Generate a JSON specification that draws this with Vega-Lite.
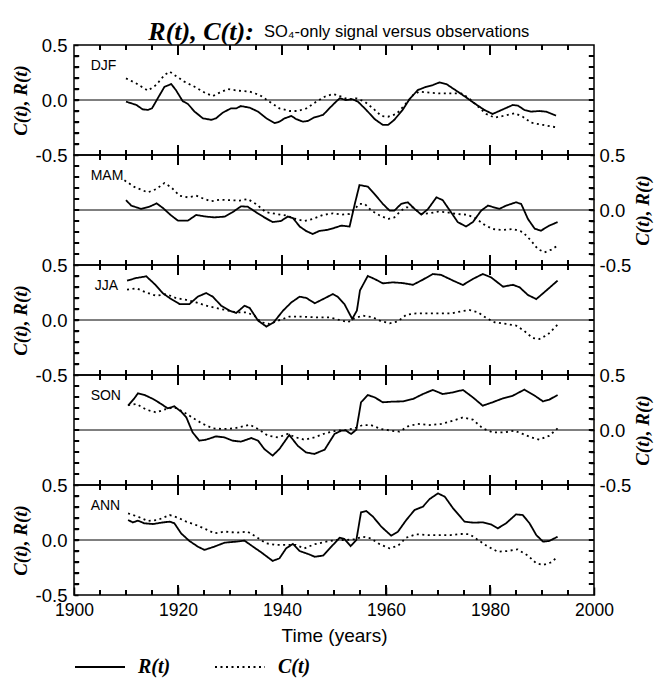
{
"$schema": "https://vega.github.io/schema/vega-lite/v6.json",
"background": "white",
"padding": {"left": 10, "right": 0, "top": 18, "bottom": 2},
"title": {"text": "R(t), C(t):", "anchor": "start", "font": "Liberation Serif", "fontStyle": "italic", "fontWeight": "bold", "fontSize": 26, "color": "black", "dx": 138, "dy": 22, "offset": 0},
"config": {
  "view": {"stroke": "black", "strokeWidth": 1.5, "fill": "transparent"},
  "axis": {"zindex": 1, "domain": false, "grid": false, "tickColor": "black", "tickWidth": 1.5, "labelColor": "black", "labelFont": "Liberation Sans", "labelFontSize": 18.5, "labelFlush": false, "labelOverlap": false, "titleColor": "black", "titleFont": "Liberation Serif", "titleFontStyle": "italic", "titleFontWeight": "bold", "titleFontSize": 19}
},
"spacing": 0,
"bounds": "flush",
"resolve": {"scale": {"strokeDash": "independent"}, "legend": {"strokeDash": "independent"}},
"datasets": {
"xt": [{"yr":1905},{"yr":1910},{"yr":1915},{"yr":1920},{"yr":1925},{"yr":1930},{"yr":1935},{"yr":1940},{"yr":1945},{"yr":1950},{"yr":1955},{"yr":1960},{"yr":1965},{"yr":1970},{"yr":1975},{"yr":1980},{"yr":1985},{"yr":1990},{"yr":1995}],
"yt": [{"yv":-0.4},{"yv":-0.3},{"yv":-0.2},{"yv":-0.1},{"yv":0},{"yv":0.1},{"yv":0.2},{"yv":0.3},{"yv":0.4}],
"DJF": [
{"t":1910.0,"R":-0.015},{"t":1912.0,"R":-0.045},{"t":1913.2,"R":-0.085},{"t":1914.2,"R":-0.09},{"t":1915.0,"R":-0.076},{"t":1916.1,"R":0.015},{"t":1917.4,"R":0.12},{"t":1918.7,"R":0.145},{"t":1919.6,"R":0.09},{"t":1920.9,"R":-0.01},{"t":1921.9,"R":-0.036},{"t":1923.2,"R":-0.106},{"t":1924.8,"R":-0.167},{"t":1926.4,"R":-0.18},{"t":1927.3,"R":-0.167},{"t":1928.6,"R":-0.115},{"t":1930.2,"R":-0.076},{"t":1931.2,"R":-0.076},{"t":1932.1,"R":-0.055},{"t":1933.8,"R":-0.07},{"t":1935.4,"R":-0.106},{"t":1937.0,"R":-0.167},{"t":1938.6,"R":-0.21},{"t":1939.5,"R":-0.197},{"t":1940.5,"R":-0.167},{"t":1941.8,"R":-0.145},{"t":1942.7,"R":-0.173},{"t":1944.0,"R":-0.197},{"t":1945.0,"R":-0.19},{"t":1946.2,"R":-0.158},{"t":1947.9,"R":-0.136},{"t":1949.1,"R":-0.076},{"t":1950.4,"R":-0.015},{"t":1951.1,"R":0.015},{"t":1952.3,"R":0.0},{"t":1953.6,"R":0.006},{"t":1954.6,"R":-0.015},{"t":1956.2,"R":-0.09},{"t":1957.8,"R":-0.173},{"t":1959.4,"R":-0.227},{"t":1960.4,"R":-0.227},{"t":1961.6,"R":-0.18},{"t":1963.2,"R":-0.09},{"t":1964.5,"R":0.006},{"t":1966.1,"R":0.09},{"t":1967.7,"R":0.12},{"t":1969.0,"R":0.136},{"t":1970.3,"R":0.16},{"t":1971.6,"R":0.145},{"t":1973.5,"R":0.085},{"t":1975.4,"R":0.024},{"t":1977.0,"R":-0.03},{"t":1978.9,"R":-0.09},{"t":1980.5,"R":-0.127},{"t":1982.5,"R":-0.085},{"t":1984.4,"R":-0.045},{"t":1985.4,"R":-0.052},{"t":1986.6,"R":-0.09},{"t":1987.9,"R":-0.106},{"t":1989.5,"R":-0.1},{"t":1990.8,"R":-0.106},{"t":1992.7,"R":-0.142},
{"t":1910.0,"C":0.197},{"t":1912.0,"C":0.15},{"t":1914.2,"C":0.085},{"t":1915.8,"C":0.136},{"t":1917.4,"C":0.227},{"t":1918.4,"C":0.258},{"t":1919.6,"C":0.218},{"t":1921.2,"C":0.167},{"t":1923.2,"C":0.12},{"t":1925.4,"C":0.06},{"t":1926.7,"C":0.036},{"t":1928.0,"C":0.067},{"t":1929.6,"C":0.1},{"t":1931.5,"C":0.085},{"t":1933.8,"C":0.076},{"t":1935.7,"C":0.045},{"t":1937.6,"C":-0.015},{"t":1939.5,"C":-0.076},{"t":1941.5,"C":-0.1},{"t":1943.0,"C":-0.1},{"t":1944.7,"C":-0.076},{"t":1946.6,"C":-0.015},{"t":1948.2,"C":0.03},{"t":1949.8,"C":0.055},{"t":1951.1,"C":0.036},{"t":1952.7,"C":0.006},{"t":1954.3,"C":0.015},{"t":1955.9,"C":-0.015},{"t":1957.5,"C":-0.076},{"t":1959.1,"C":-0.145},{"t":1960.4,"C":-0.152},{"t":1962.0,"C":-0.127},{"t":1963.6,"C":-0.045},{"t":1965.2,"C":0.045},{"t":1966.4,"C":0.076},{"t":1968.4,"C":0.067},{"t":1970.3,"C":0.06},{"t":1972.5,"C":0.06},{"t":1974.5,"C":0.06},{"t":1976.0,"C":0.015},{"t":1977.7,"C":-0.06},{"t":1979.3,"C":-0.127},{"t":1980.9,"C":-0.16},{"t":1982.5,"C":-0.145},{"t":1984.7,"C":-0.12},{"t":1986.3,"C":-0.152},{"t":1987.9,"C":-0.206},{"t":1990.2,"C":-0.227},{"t":1992.7,"C":-0.248}
],
"MAM": [
{"t":1910.0,"R":0.09},{"t":1911.0,"R":0.04},{"t":1912.9,"R":0.01},{"t":1914.5,"R":0.03},{"t":1915.9,"R":0.06},{"t":1917.1,"R":0.018},{"t":1918.7,"R":-0.05},{"t":1920.0,"R":-0.097},{"t":1921.9,"R":-0.097},{"t":1923.5,"R":-0.045},{"t":1925.4,"R":-0.06},{"t":1927.0,"R":-0.067},{"t":1929.0,"R":-0.06},{"t":1930.5,"R":-0.02},{"t":1932.1,"R":0.033},{"t":1933.4,"R":0.03},{"t":1935.0,"R":-0.02},{"t":1936.6,"R":-0.067},{"t":1938.2,"R":-0.11},{"t":1939.8,"R":-0.1},{"t":1941.1,"R":-0.06},{"t":1942.1,"R":-0.073},{"t":1943.4,"R":-0.15},{"t":1944.6,"R":-0.19},{"t":1945.9,"R":-0.218},{"t":1947.2,"R":-0.19},{"t":1948.8,"R":-0.18},{"t":1950.4,"R":-0.158},{"t":1951.4,"R":-0.142},{"t":1953.0,"R":-0.15},{"t":1954.0,"R":0.055},{"t":1954.9,"R":0.227},{"t":1956.5,"R":0.212},{"t":1957.8,"R":0.145},{"t":1959.4,"R":0.055},{"t":1960.7,"R":-0.006},{"t":1961.6,"R":-0.006},{"t":1962.9,"R":0.055},{"t":1964.2,"R":0.07},{"t":1965.5,"R":0.01},{"t":1966.8,"R":-0.042},{"t":1968.1,"R":0.01},{"t":1969.7,"R":0.115},{"t":1970.9,"R":0.09},{"t":1972.5,"R":-0.02},{"t":1973.8,"R":-0.11},{"t":1975.4,"R":-0.15},{"t":1976.7,"R":-0.11},{"t":1978.3,"R":-0.006},{"t":1979.6,"R":0.04},{"t":1981.8,"R":0.01},{"t":1983.1,"R":0.04},{"t":1985.0,"R":0.07},{"t":1986.0,"R":0.055},{"t":1987.3,"R":-0.082},{"t":1988.6,"R":-0.17},{"t":1989.8,"R":-0.188},{"t":1991.4,"R":-0.142},{"t":1993.0,"R":-0.11},
{"t":1909.7,"C":0.27},{"t":1911.6,"C":0.21},{"t":1914.2,"C":0.16},{"t":1915.8,"C":0.19},{"t":1917.4,"C":0.245},{"t":1918.7,"C":0.206},{"t":1920.3,"C":0.13},{"t":1921.9,"C":0.115},{"t":1923.5,"C":0.13},{"t":1925.1,"C":0.1},{"t":1926.3,"C":0.079},{"t":1928.0,"C":0.094},{"t":1929.9,"C":0.09},{"t":1931.8,"C":0.085},{"t":1933.4,"C":0.1},{"t":1935.0,"C":0.055},{"t":1936.9,"C":-0.02},{"t":1938.9,"C":-0.036},{"t":1940.8,"C":-0.05},{"t":1942.7,"C":-0.082},{"t":1944.3,"C":-0.1},{"t":1945.9,"C":-0.082},{"t":1947.9,"C":-0.045},{"t":1949.8,"C":-0.03},{"t":1951.4,"C":-0.042},{"t":1953.0,"C":-0.036},{"t":1954.0,"C":0.01},{"t":1954.9,"C":0.055},{"t":1955.9,"C":0.055},{"t":1957.2,"C":-0.006},{"t":1958.8,"C":-0.05},{"t":1960.4,"C":-0.082},{"t":1961.6,"C":-0.067},{"t":1962.9,"C":-0.006},{"t":1963.9,"C":0.024},{"t":1965.2,"C":0.024},{"t":1966.8,"C":-0.036},{"t":1968.4,"C":-0.03},{"t":1970.0,"C":-0.015},{"t":1971.6,"C":-0.02},{"t":1973.5,"C":-0.036},{"t":1975.4,"C":-0.042},{"t":1977.0,"C":-0.067},{"t":1978.9,"C":-0.133},{"t":1980.5,"C":-0.173},{"t":1982.5,"C":-0.182},{"t":1984.4,"C":-0.173},{"t":1986.3,"C":-0.2},{"t":1987.9,"C":-0.279},{"t":1989.2,"C":-0.355},{"t":1990.5,"C":-0.385},{"t":1991.8,"C":-0.36},{"t":1993.0,"C":-0.324}
],
"JJA": [
{"t":1910.2,"R":0.358},{"t":1912.0,"R":0.382},{"t":1913.9,"R":0.397},{"t":1915.5,"R":0.327},{"t":1917.1,"R":0.242},{"t":1918.7,"R":0.19},{"t":1920.3,"R":0.145},{"t":1922.2,"R":0.145},{"t":1923.8,"R":0.212},{"t":1925.4,"R":0.245},{"t":1926.7,"R":0.212},{"t":1928.3,"R":0.13},{"t":1929.9,"R":0.085},{"t":1931.2,"R":0.064},{"t":1932.8,"R":0.13},{"t":1933.8,"R":0.109},{"t":1935.4,"R":-0.006},{"t":1937.0,"R":-0.06},{"t":1938.4,"R":-0.021},{"t":1940.2,"R":0.085},{"t":1941.8,"R":0.16},{"t":1943.4,"R":0.212},{"t":1944.7,"R":0.2},{"t":1946.3,"R":0.152},{"t":1947.9,"R":0.19},{"t":1949.8,"R":0.236},{"t":1950.7,"R":0.212},{"t":1952.0,"R":0.145},{"t":1953.5,"R":0.01},{"t":1954.4,"R":0.085},{"t":1955.0,"R":0.27},{"t":1956.5,"R":0.4},{"t":1957.8,"R":0.373},{"t":1959.4,"R":0.333},{"t":1961.3,"R":0.342},{"t":1963.2,"R":0.336},{"t":1965.2,"R":0.32},{"t":1967.1,"R":0.367},{"t":1969.0,"R":0.418},{"t":1970.6,"R":0.41},{"t":1972.9,"R":0.358},{"t":1974.8,"R":0.318},{"t":1976.7,"R":0.373},{"t":1978.6,"R":0.418},{"t":1980.2,"R":0.388},{"t":1982.5,"R":0.303},{"t":1984.4,"R":0.32},{"t":1985.7,"R":0.297},{"t":1987.3,"R":0.227},{"t":1988.9,"R":0.19},{"t":1990.8,"R":0.267},{"t":1993.0,"R":0.358},
{"t":1910.2,"C":0.276},{"t":1912.0,"C":0.288},{"t":1913.9,"C":0.25},{"t":1915.8,"C":0.22},{"t":1917.7,"C":0.236},{"t":1919.6,"C":0.2},{"t":1921.6,"C":0.182},{"t":1923.5,"C":0.16},{"t":1925.4,"C":0.13},{"t":1927.3,"C":0.109},{"t":1929.3,"C":0.09},{"t":1931.2,"C":0.07},{"t":1933.1,"C":0.07},{"t":1934.7,"C":0.04},{"t":1936.0,"C":-0.021},{"t":1937.6,"C":-0.036},{"t":1939.2,"C":-0.006},{"t":1941.4,"C":0.03},{"t":1944.0,"C":0.03},{"t":1946.6,"C":0.024},{"t":1949.1,"C":0.024},{"t":1951.1,"C":0.0},{"t":1952.7,"C":-0.021},{"t":1953.6,"C":0.009},{"t":1955.5,"C":0.04},{"t":1957.5,"C":0.024},{"t":1959.1,"C":-0.012},{"t":1960.7,"C":-0.03},{"t":1962.3,"C":-0.012},{"t":1963.9,"C":0.048},{"t":1965.8,"C":0.06},{"t":1968.1,"C":0.06},{"t":1970.3,"C":0.06},{"t":1972.5,"C":0.06},{"t":1974.5,"C":0.079},{"t":1976.1,"C":0.09},{"t":1977.7,"C":0.07},{"t":1979.3,"C":0.018},{"t":1980.9,"C":-0.021},{"t":1983.1,"C":-0.036},{"t":1985.0,"C":-0.05},{"t":1986.6,"C":-0.1},{"t":1988.2,"C":-0.164},{"t":1989.5,"C":-0.173},{"t":1991.1,"C":-0.133},{"t":1993.0,"C":-0.042}
],
"SON": [
{"t":1910.4,"R":0.221},{"t":1911.6,"R":0.288},{"t":1912.3,"R":0.333},{"t":1913.5,"R":0.32},{"t":1915.2,"R":0.282},{"t":1916.8,"R":0.236},{"t":1918.0,"R":0.197},{"t":1919.3,"R":0.215},{"t":1920.6,"R":0.167},{"t":1921.6,"R":0.115},{"t":1922.8,"R":-0.021},{"t":1924.1,"R":-0.097},{"t":1925.4,"R":-0.088},{"t":1927.3,"R":-0.058},{"t":1928.9,"R":-0.067},{"t":1930.5,"R":-0.097},{"t":1932.1,"R":-0.106},{"t":1934.1,"R":-0.073},{"t":1935.4,"R":-0.097},{"t":1936.6,"R":-0.173},{"t":1938.2,"R":-0.233},{"t":1939.5,"R":-0.173},{"t":1941.4,"R":-0.045},{"t":1943.0,"R":-0.142},{"t":1944.6,"R":-0.203},{"t":1946.2,"R":-0.218},{"t":1948.2,"R":-0.179},{"t":1950.1,"R":-0.036},{"t":1951.4,"R":-0.006},{"t":1952.3,"R":-0.006},{"t":1953.3,"R":-0.036},{"t":1954.3,"R":0.003},{"t":1955.2,"R":0.252},{"t":1956.5,"R":0.318},{"t":1957.8,"R":0.297},{"t":1959.4,"R":0.252},{"t":1961.3,"R":0.258},{"t":1963.2,"R":0.26},{"t":1965.2,"R":0.282},{"t":1967.1,"R":0.327},{"t":1969.0,"R":0.364},{"t":1970.9,"R":0.327},{"t":1972.9,"R":0.342},{"t":1974.8,"R":0.364},{"t":1976.7,"R":0.297},{"t":1978.6,"R":0.221},{"t":1980.5,"R":0.252},{"t":1982.5,"R":0.288},{"t":1984.4,"R":0.312},{"t":1986.6,"R":0.367},{"t":1988.6,"R":0.312},{"t":1990.2,"R":0.26},{"t":1991.4,"R":0.276},{"t":1993.0,"R":0.318},
{"t":1910.4,"C":0.227},{"t":1912.0,"C":0.236},{"t":1913.9,"C":0.185},{"t":1915.8,"C":0.16},{"t":1917.7,"C":0.19},{"t":1919.3,"C":0.206},{"t":1921.2,"C":0.16},{"t":1923.2,"C":0.1},{"t":1924.8,"C":0.055},{"t":1926.7,"C":0.015},{"t":1928.6,"C":0.009},{"t":1930.9,"C":0.015},{"t":1932.5,"C":0.033},{"t":1933.8,"C":0.048},{"t":1935.4,"C":0.009},{"t":1937.3,"C":-0.052},{"t":1939.2,"C":-0.067},{"t":1941.1,"C":-0.036},{"t":1942.7,"C":-0.067},{"t":1944.3,"C":-0.088},{"t":1946.2,"C":-0.067},{"t":1948.5,"C":-0.027},{"t":1950.4,"C":-0.006},{"t":1952.3,"C":0.0},{"t":1953.9,"C":0.015},{"t":1955.5,"C":0.045},{"t":1957.1,"C":0.045},{"t":1959.1,"C":0.009},{"t":1961.0,"C":-0.006},{"t":1962.6,"C":-0.015},{"t":1964.2,"C":0.033},{"t":1966.1,"C":0.055},{"t":1968.4,"C":0.045},{"t":1970.6,"C":0.055},{"t":1972.9,"C":0.085},{"t":1974.8,"C":0.115},{"t":1976.7,"C":0.094},{"t":1978.6,"C":0.015},{"t":1980.5,"C":-0.021},{"t":1982.8,"C":-0.021},{"t":1984.7,"C":-0.006},{"t":1986.3,"C":-0.036},{"t":1987.9,"C":-0.067},{"t":1989.5,"C":-0.088},{"t":1991.4,"C":-0.052},{"t":1993.0,"C":0.015}
],
"ANN": [
{"t":1910.4,"R":0.182},{"t":1911.3,"R":0.16},{"t":1912.3,"R":0.176},{"t":1913.5,"R":0.152},{"t":1915.2,"R":0.145},{"t":1916.8,"R":0.158},{"t":1918.4,"R":0.167},{"t":1919.3,"R":0.152},{"t":1920.6,"R":0.06},{"t":1922.2,"R":-0.009},{"t":1923.8,"R":-0.06},{"t":1925.1,"R":-0.09},{"t":1927.0,"R":-0.06},{"t":1929.0,"R":-0.024},{"t":1931.2,"R":-0.015},{"t":1932.8,"R":-0.006},{"t":1934.4,"R":-0.06},{"t":1936.0,"R":-0.112},{"t":1938.2,"R":-0.19},{"t":1939.5,"R":-0.167},{"t":1940.8,"R":-0.076},{"t":1942.1,"R":-0.036},{"t":1943.4,"R":-0.1},{"t":1945.0,"R":-0.127},{"t":1946.3,"R":-0.152},{"t":1947.9,"R":-0.142},{"t":1949.5,"R":-0.06},{"t":1951.1,"R":0.021},{"t":1952.0,"R":0.009},{"t":1953.2,"R":-0.055},{"t":1954.3,"R":0.0},{"t":1955.2,"R":0.252},{"t":1956.2,"R":0.264},{"t":1957.5,"R":0.212},{"t":1959.1,"R":0.121},{"t":1961.0,"R":0.039},{"t":1962.3,"R":0.076},{"t":1963.9,"R":0.182},{"t":1965.5,"R":0.273},{"t":1967.1,"R":0.303},{"t":1968.4,"R":0.373},{"t":1970.0,"R":0.424},{"t":1971.3,"R":0.394},{"t":1972.9,"R":0.288},{"t":1975.1,"R":0.167},{"t":1976.7,"R":0.158},{"t":1978.6,"R":0.16},{"t":1980.2,"R":0.142},{"t":1981.5,"R":0.106},{"t":1983.1,"R":0.152},{"t":1985.0,"R":0.233},{"t":1986.3,"R":0.227},{"t":1987.6,"R":0.152},{"t":1988.9,"R":0.045},{"t":1990.2,"R":-0.015},{"t":1991.4,"R":-0.009},{"t":1993.0,"R":0.03},
{"t":1910.4,"C":0.242},{"t":1912.3,"C":0.212},{"t":1914.2,"C":0.173},{"t":1916.1,"C":0.182},{"t":1918.4,"C":0.227},{"t":1920.0,"C":0.203},{"t":1921.6,"C":0.167},{"t":1923.5,"C":0.136},{"t":1925.4,"C":0.097},{"t":1927.0,"C":0.06},{"t":1929.0,"C":0.076},{"t":1931.2,"C":0.067},{"t":1933.4,"C":0.076},{"t":1935.0,"C":0.03},{"t":1936.9,"C":-0.03},{"t":1938.9,"C":-0.045},{"t":1941.1,"C":-0.045},{"t":1942.7,"C":-0.045},{"t":1944.3,"C":-0.076},{"t":1946.2,"C":-0.039},{"t":1948.5,"C":-0.015},{"t":1950.4,"C":0.0},{"t":1952.3,"C":0.0},{"t":1953.9,"C":0.006},{"t":1955.5,"C":0.03},{"t":1957.1,"C":0.015},{"t":1958.8,"C":-0.039},{"t":1960.7,"C":-0.076},{"t":1962.3,"C":-0.052},{"t":1963.9,"C":0.021},{"t":1965.8,"C":0.052},{"t":1968.1,"C":0.045},{"t":1970.3,"C":0.045},{"t":1972.5,"C":0.045},{"t":1974.5,"C":0.055},{"t":1976.1,"C":0.052},{"t":1977.7,"C":0.0},{"t":1979.6,"C":-0.06},{"t":1981.5,"C":-0.106},{"t":1983.4,"C":-0.1},{"t":1985.3,"C":-0.085},{"t":1987.3,"C":-0.142},{"t":1988.9,"C":-0.212},{"t":1990.2,"C":-0.227},{"t":1991.8,"C":-0.203},{"t":1993.0,"C":-0.152}
]
},
"vconcat": [
{
 "width": 520, "height": 110,
 "title": {"text": "SO\u2084-only signal versus observations", "anchor": "start", "frame": "group", "font": "Liberation Sans", "fontSize": 16.5, "fontStyle": "normal", "fontWeight": "normal", "color": "black", "dx": 190, "offset": -4},
 "data": {"name": "DJF"},
 "layer": [
  {"transform": [{"filter": "isValid(datum.R)"}], "mark": {"type": "line", "color": "black", "strokeWidth": 1.8},
   "encoding": {
    "x": {"field": "t", "type": "quantitative", "scale": {"domain": [1900, 2000], "nice": false, "zero": false}, "axis": null},
    "y": {"field": "R", "type": "quantitative", "scale": {"domain": [-0.5, 0.5], "nice": false},
      "axis": {"orient": "left", "values": [-0.5,-0.4,-0.3,-0.2,-0.1,0,0.1,0.2,0.3,0.4,0.5], "labelExpr": "abs(datum.value) < 0.01 || abs(datum.value) > 0.49 ? replace(format(datum.value, '.1f'), '\u2212', '-') : ''", "labelPadding": 7, "tickSize": 4, "offset": -4, "title": "C(t), R(t)", "titlePadding": 5}},
    "strokeDash": {"datum": "R(t)", "type": "nominal", "scale": {"domain": ["R(t)", "C(t)"], "range": [[1, 0], [2, 3.5]]}, "legend": null}
   }},
  {"transform": [{"filter": "isValid(datum.C)"}], "mark": {"type": "line", "color": "black", "strokeWidth": 1.8},
   "encoding": {"x": {"field": "t", "type": "quantitative", "axis": null}, "y": {"field": "C", "type": "quantitative", "axis": null}, "strokeDash": {"datum": "C(t)", "type": "nominal", "legend": null}}},
  {"data": {"values": [{}]}, "mark": {"type": "rule", "color": "black", "strokeWidth": 1}, "encoding": {"y": {"datum": 0, "type": "quantitative", "axis": null}}},
  {"data": {"name": "xt"}, "transform": [{"filter": "datum.yr % 20 === 0"}], "mark": {"type": "rule", "color": "black", "strokeWidth": 2}, "encoding": {"x": {"field": "yr", "type": "quantitative", "axis": null}, "y": {"datum": 0.5, "type": "quantitative", "axis": null}, "y2": {"datum": 0.41}}},
  {"data": {"name": "xt"}, "transform": [{"filter": "datum.yr % 20 !== 0"}], "mark": {"type": "rule", "color": "black", "strokeWidth": 2}, "encoding": {"x": {"field": "yr", "type": "quantitative", "axis": null}, "y": {"datum": 0.5, "type": "quantitative", "axis": null}, "y2": {"datum": 0.455}}},
  {"data": {"name": "xt"}, "transform": [{"filter": "datum.yr % 20 === 0"}], "mark": {"type": "rule", "color": "black", "strokeWidth": 2}, "encoding": {"x": {"field": "yr", "type": "quantitative", "axis": null}, "y": {"datum": -0.5, "type": "quantitative", "axis": null}, "y2": {"datum": -0.41}}},
  {"data": {"name": "xt"}, "transform": [{"filter": "datum.yr % 20 !== 0"}], "mark": {"type": "rule", "color": "black", "strokeWidth": 2}, "encoding": {"x": {"field": "yr", "type": "quantitative", "axis": null}, "y": {"datum": -0.5, "type": "quantitative", "axis": null}, "y2": {"datum": -0.455}}},
  {"data": {"name": "yt"}, "mark": {"type": "rule", "color": "black", "strokeWidth": 2}, "encoding": {"y": {"field": "yv", "type": "quantitative", "axis": null}, "x": {"datum": 1900, "type": "quantitative", "axis": null}, "x2": {"datum": 1901}}},
  {"data": {"name": "yt"}, "mark": {"type": "rule", "color": "black", "strokeWidth": 2}, "encoding": {"y": {"field": "yv", "type": "quantitative", "axis": null}, "x": {"datum": 2000, "type": "quantitative", "axis": null}, "x2": {"datum": 1999}}},
  {"data": {"values": [{}]}, "mark": {"type": "text", "align": "left", "baseline": "alphabetic", "font": "Liberation Sans", "fontSize": 14, "color": "black"}, "encoding": {"x": {"datum": 1903.2, "type": "quantitative", "axis": null}, "y": {"datum": 0.27, "type": "quantitative", "axis": null}, "text": {"value": "DJF"}}}
 ],
 "resolve": {"axis": {"x": "independent", "y": "independent"}}
},
{
 "width": 520, "height": 110,
 "data": {"name": "MAM"},
 "layer": [
  {"transform": [{"filter": "isValid(datum.R)"}], "mark": {"type": "line", "color": "black", "strokeWidth": 1.8},
   "encoding": {
    "x": {"field": "t", "type": "quantitative", "scale": {"domain": [1900, 2000], "nice": false, "zero": false}, "axis": null},
    "y": {"field": "R", "type": "quantitative", "scale": {"domain": [-0.5, 0.5], "nice": false},
      "axis": {"orient": "right", "values": [-0.5,-0.4,-0.3,-0.2,-0.1,0,0.1,0.2,0.3,0.4,0.5], "labelExpr": "abs(datum.value) < 0.01 || abs(datum.value) > 0.49 ? replace(format(datum.value, '.1f'), '\u2212', '-') : ''", "labelPadding": 5, "tickSize": 4, "offset": -4, "title": "C(t), R(t)", "titleAngle": 270, "titleBaseline": "top", "titlePadding": 3}},
    "strokeDash": {"datum": "R(t)", "type": "nominal", "scale": {"domain": ["R(t)", "C(t)"], "range": [[1, 0], [2, 3.5]]}, "legend": null}
   }},
  {"transform": [{"filter": "isValid(datum.C)"}], "mark": {"type": "line", "color": "black", "strokeWidth": 1.8},
   "encoding": {"x": {"field": "t", "type": "quantitative", "axis": null}, "y": {"field": "C", "type": "quantitative", "axis": null}, "strokeDash": {"datum": "C(t)", "type": "nominal", "legend": null}}},
  {"data": {"values": [{}]}, "mark": {"type": "rule", "color": "black", "strokeWidth": 1}, "encoding": {"y": {"datum": 0, "type": "quantitative", "axis": null}}},
  {"data": {"name": "xt"}, "transform": [{"filter": "datum.yr % 20 === 0"}], "mark": {"type": "rule", "color": "black", "strokeWidth": 2}, "encoding": {"x": {"field": "yr", "type": "quantitative", "axis": null}, "y": {"datum": 0.5, "type": "quantitative", "axis": null}, "y2": {"datum": 0.41}}},
  {"data": {"name": "xt"}, "transform": [{"filter": "datum.yr % 20 !== 0"}], "mark": {"type": "rule", "color": "black", "strokeWidth": 2}, "encoding": {"x": {"field": "yr", "type": "quantitative", "axis": null}, "y": {"datum": 0.5, "type": "quantitative", "axis": null}, "y2": {"datum": 0.455}}},
  {"data": {"name": "xt"}, "transform": [{"filter": "datum.yr % 20 === 0"}], "mark": {"type": "rule", "color": "black", "strokeWidth": 2}, "encoding": {"x": {"field": "yr", "type": "quantitative", "axis": null}, "y": {"datum": -0.5, "type": "quantitative", "axis": null}, "y2": {"datum": -0.41}}},
  {"data": {"name": "xt"}, "transform": [{"filter": "datum.yr % 20 !== 0"}], "mark": {"type": "rule", "color": "black", "strokeWidth": 2}, "encoding": {"x": {"field": "yr", "type": "quantitative", "axis": null}, "y": {"datum": -0.5, "type": "quantitative", "axis": null}, "y2": {"datum": -0.455}}},
  {"data": {"name": "yt"}, "mark": {"type": "rule", "color": "black", "strokeWidth": 2}, "encoding": {"y": {"field": "yv", "type": "quantitative", "axis": null}, "x": {"datum": 1900, "type": "quantitative", "axis": null}, "x2": {"datum": 1901}}},
  {"data": {"name": "yt"}, "mark": {"type": "rule", "color": "black", "strokeWidth": 2}, "encoding": {"y": {"field": "yv", "type": "quantitative", "axis": null}, "x": {"datum": 2000, "type": "quantitative", "axis": null}, "x2": {"datum": 1999}}},
  {"data": {"values": [{}]}, "mark": {"type": "text", "align": "left", "baseline": "alphabetic", "font": "Liberation Sans", "fontSize": 14, "color": "black"}, "encoding": {"x": {"datum": 1903.2, "type": "quantitative", "axis": null}, "y": {"datum": 0.27, "type": "quantitative", "axis": null}, "text": {"value": "MAM"}}}
 ],
 "resolve": {"axis": {"x": "independent", "y": "independent"}}
},
{
 "width": 520, "height": 110,
 "data": {"name": "JJA"},
 "layer": [
  {"transform": [{"filter": "isValid(datum.R)"}], "mark": {"type": "line", "color": "black", "strokeWidth": 1.8},
   "encoding": {
    "x": {"field": "t", "type": "quantitative", "scale": {"domain": [1900, 2000], "nice": false, "zero": false}, "axis": null},
    "y": {"field": "R", "type": "quantitative", "scale": {"domain": [-0.5, 0.5], "nice": false},
      "axis": {"orient": "left", "values": [-0.5,-0.4,-0.3,-0.2,-0.1,0,0.1,0.2,0.3,0.4,0.5], "labelExpr": "abs(datum.value) < 0.01 || abs(datum.value) > 0.49 ? replace(format(datum.value, '.1f'), '\u2212', '-') : ''", "labelPadding": 7, "tickSize": 4, "offset": -4, "title": "C(t), R(t)", "titlePadding": 5}},
    "strokeDash": {"datum": "R(t)", "type": "nominal", "scale": {"domain": ["R(t)", "C(t)"], "range": [[1, 0], [2, 3.5]]}, "legend": null}
   }},
  {"transform": [{"filter": "isValid(datum.C)"}], "mark": {"type": "line", "color": "black", "strokeWidth": 1.8},
   "encoding": {"x": {"field": "t", "type": "quantitative", "axis": null}, "y": {"field": "C", "type": "quantitative", "axis": null}, "strokeDash": {"datum": "C(t)", "type": "nominal", "legend": null}}},
  {"data": {"values": [{}]}, "mark": {"type": "rule", "color": "black", "strokeWidth": 1}, "encoding": {"y": {"datum": 0, "type": "quantitative", "axis": null}}},
  {"data": {"name": "xt"}, "transform": [{"filter": "datum.yr % 20 === 0"}], "mark": {"type": "rule", "color": "black", "strokeWidth": 2}, "encoding": {"x": {"field": "yr", "type": "quantitative", "axis": null}, "y": {"datum": 0.5, "type": "quantitative", "axis": null}, "y2": {"datum": 0.41}}},
  {"data": {"name": "xt"}, "transform": [{"filter": "datum.yr % 20 !== 0"}], "mark": {"type": "rule", "color": "black", "strokeWidth": 2}, "encoding": {"x": {"field": "yr", "type": "quantitative", "axis": null}, "y": {"datum": 0.5, "type": "quantitative", "axis": null}, "y2": {"datum": 0.455}}},
  {"data": {"name": "xt"}, "transform": [{"filter": "datum.yr % 20 === 0"}], "mark": {"type": "rule", "color": "black", "strokeWidth": 2}, "encoding": {"x": {"field": "yr", "type": "quantitative", "axis": null}, "y": {"datum": -0.5, "type": "quantitative", "axis": null}, "y2": {"datum": -0.41}}},
  {"data": {"name": "xt"}, "transform": [{"filter": "datum.yr % 20 !== 0"}], "mark": {"type": "rule", "color": "black", "strokeWidth": 2}, "encoding": {"x": {"field": "yr", "type": "quantitative", "axis": null}, "y": {"datum": -0.5, "type": "quantitative", "axis": null}, "y2": {"datum": -0.455}}},
  {"data": {"name": "yt"}, "mark": {"type": "rule", "color": "black", "strokeWidth": 2}, "encoding": {"y": {"field": "yv", "type": "quantitative", "axis": null}, "x": {"datum": 1900, "type": "quantitative", "axis": null}, "x2": {"datum": 1901}}},
  {"data": {"name": "yt"}, "mark": {"type": "rule", "color": "black", "strokeWidth": 2}, "encoding": {"y": {"field": "yv", "type": "quantitative", "axis": null}, "x": {"datum": 2000, "type": "quantitative", "axis": null}, "x2": {"datum": 1999}}},
  {"data": {"values": [{}]}, "mark": {"type": "text", "align": "left", "baseline": "alphabetic", "font": "Liberation Sans", "fontSize": 14, "color": "black"}, "encoding": {"x": {"datum": 1904, "type": "quantitative", "axis": null}, "y": {"datum": 0.27, "type": "quantitative", "axis": null}, "text": {"value": "JJA"}}}
 ],
 "resolve": {"axis": {"x": "independent", "y": "independent"}}
},
{
 "width": 520, "height": 110,
 "data": {"name": "SON"},
 "layer": [
  {"transform": [{"filter": "isValid(datum.R)"}], "mark": {"type": "line", "color": "black", "strokeWidth": 1.8},
   "encoding": {
    "x": {"field": "t", "type": "quantitative", "scale": {"domain": [1900, 2000], "nice": false, "zero": false}, "axis": null},
    "y": {"field": "R", "type": "quantitative", "scale": {"domain": [-0.5, 0.5], "nice": false},
      "axis": {"orient": "right", "values": [-0.5,-0.4,-0.3,-0.2,-0.1,0,0.1,0.2,0.3,0.4,0.5], "labelExpr": "abs(datum.value) < 0.01 || abs(datum.value) > 0.49 ? replace(format(datum.value, '.1f'), '\u2212', '-') : ''", "labelPadding": 5, "tickSize": 4, "offset": -4, "title": "C(t), R(t)", "titleAngle": 270, "titleBaseline": "top", "titlePadding": 3}},
    "strokeDash": {"datum": "R(t)", "type": "nominal", "scale": {"domain": ["R(t)", "C(t)"], "range": [[1, 0], [2, 3.5]]}, "legend": null}
   }},
  {"transform": [{"filter": "isValid(datum.C)"}], "mark": {"type": "line", "color": "black", "strokeWidth": 1.8},
   "encoding": {"x": {"field": "t", "type": "quantitative", "axis": null}, "y": {"field": "C", "type": "quantitative", "axis": null}, "strokeDash": {"datum": "C(t)", "type": "nominal", "legend": null}}},
  {"data": {"values": [{}]}, "mark": {"type": "rule", "color": "black", "strokeWidth": 1}, "encoding": {"y": {"datum": 0, "type": "quantitative", "axis": null}}},
  {"data": {"name": "xt"}, "transform": [{"filter": "datum.yr % 20 === 0"}], "mark": {"type": "rule", "color": "black", "strokeWidth": 2}, "encoding": {"x": {"field": "yr", "type": "quantitative", "axis": null}, "y": {"datum": 0.5, "type": "quantitative", "axis": null}, "y2": {"datum": 0.41}}},
  {"data": {"name": "xt"}, "transform": [{"filter": "datum.yr % 20 !== 0"}], "mark": {"type": "rule", "color": "black", "strokeWidth": 2}, "encoding": {"x": {"field": "yr", "type": "quantitative", "axis": null}, "y": {"datum": 0.5, "type": "quantitative", "axis": null}, "y2": {"datum": 0.455}}},
  {"data": {"name": "xt"}, "transform": [{"filter": "datum.yr % 20 === 0"}], "mark": {"type": "rule", "color": "black", "strokeWidth": 2}, "encoding": {"x": {"field": "yr", "type": "quantitative", "axis": null}, "y": {"datum": -0.5, "type": "quantitative", "axis": null}, "y2": {"datum": -0.41}}},
  {"data": {"name": "xt"}, "transform": [{"filter": "datum.yr % 20 !== 0"}], "mark": {"type": "rule", "color": "black", "strokeWidth": 2}, "encoding": {"x": {"field": "yr", "type": "quantitative", "axis": null}, "y": {"datum": -0.5, "type": "quantitative", "axis": null}, "y2": {"datum": -0.455}}},
  {"data": {"name": "yt"}, "mark": {"type": "rule", "color": "black", "strokeWidth": 2}, "encoding": {"y": {"field": "yv", "type": "quantitative", "axis": null}, "x": {"datum": 1900, "type": "quantitative", "axis": null}, "x2": {"datum": 1901}}},
  {"data": {"name": "yt"}, "mark": {"type": "rule", "color": "black", "strokeWidth": 2}, "encoding": {"y": {"field": "yv", "type": "quantitative", "axis": null}, "x": {"datum": 2000, "type": "quantitative", "axis": null}, "x2": {"datum": 1999}}},
  {"data": {"values": [{}]}, "mark": {"type": "text", "align": "left", "baseline": "alphabetic", "font": "Liberation Sans", "fontSize": 14, "color": "black"}, "encoding": {"x": {"datum": 1903.2, "type": "quantitative", "axis": null}, "y": {"datum": 0.27, "type": "quantitative", "axis": null}, "text": {"value": "SON"}}}
 ],
 "resolve": {"axis": {"x": "independent", "y": "independent"}}
},
{
 "width": 520, "height": 110,
 "data": {"name": "ANN"},
 "layer": [
  {"transform": [{"filter": "isValid(datum.R)"}], "mark": {"type": "line", "color": "black", "strokeWidth": 1.8},
   "encoding": {
    "x": {"field": "t", "type": "quantitative", "scale": {"domain": [1900, 2000], "nice": false, "zero": false},
      "axis": {"orient": "bottom", "values": [1900,1920,1940,1960,1980,2000], "format": "d", "labelFontSize": 17.5, "labelPadding": 6, "tickSize": 8, "offset": -8, "title": "Time (years)", "titleFont": "Liberation Sans", "titleFontStyle": "normal", "titleFontSize": 19, "titleFontWeight": "normal", "titlePadding": 8}},
    "y": {"field": "R", "type": "quantitative", "scale": {"domain": [-0.5, 0.5], "nice": false},
      "axis": {"orient": "left", "values": [-0.5,-0.4,-0.3,-0.2,-0.1,0,0.1,0.2,0.3,0.4,0.5], "labelExpr": "abs(datum.value) < 0.01 || abs(datum.value) > 0.49 ? replace(format(datum.value, '.1f'), '\u2212', '-') : ''", "labelPadding": 7, "tickSize": 4, "offset": -4, "title": "C(t), R(t)", "titlePadding": 5}},
    "strokeDash": {"datum": "R(t)", "type": "nominal", "scale": {"domain": ["R(t)", "C(t)"], "range": [[1, 0], [2, 3.5]]},
      "legend": {"orient": "bottom", "direction": "horizontal", "title": null, "padding": 0, "symbolType": "stroke", "symbolSize": 2500, "symbolStrokeWidth": 1.8, "symbolStrokeColor": "black", "labelFont": "Liberation Serif", "labelFontStyle": "italic", "labelFontWeight": "bold", "labelFontSize": 20, "labelColor": "black", "labelOffset": 12, "columnPadding": 40, "offset": -5}}
   }},
  {"transform": [{"filter": "isValid(datum.C)"}], "mark": {"type": "line", "color": "black", "strokeWidth": 1.8},
   "encoding": {"x": {"field": "t", "type": "quantitative", "axis": null}, "y": {"field": "C", "type": "quantitative", "axis": null},
    "strokeDash": {"datum": "C(t)", "type": "nominal",
      "legend": {"orient": "bottom", "direction": "horizontal", "title": null, "padding": 0, "symbolType": "stroke", "symbolSize": 2500, "symbolStrokeWidth": 1.8, "symbolStrokeColor": "black", "labelFont": "Liberation Serif", "labelFontStyle": "italic", "labelFontWeight": "bold", "labelFontSize": 20, "labelColor": "black", "labelOffset": 12, "columnPadding": 40, "offset": -5}}}},
  {"data": {"values": [{}]}, "mark": {"type": "rule", "color": "black", "strokeWidth": 1}, "encoding": {"y": {"datum": 0, "type": "quantitative", "axis": null}}},
  {"data": {"name": "xt"}, "transform": [{"filter": "datum.yr % 20 === 0"}], "mark": {"type": "rule", "color": "black", "strokeWidth": 2}, "encoding": {"x": {"field": "yr", "type": "quantitative", "axis": null}, "y": {"datum": 0.5, "type": "quantitative", "axis": null}, "y2": {"datum": 0.41}}},
  {"data": {"name": "xt"}, "transform": [{"filter": "datum.yr % 20 !== 0"}], "mark": {"type": "rule", "color": "black", "strokeWidth": 2}, "encoding": {"x": {"field": "yr", "type": "quantitative", "axis": null}, "y": {"datum": 0.5, "type": "quantitative", "axis": null}, "y2": {"datum": 0.455}}},
  {"data": {"name": "xt"}, "transform": [{"filter": "datum.yr % 20 === 0"}], "mark": {"type": "rule", "color": "black", "strokeWidth": 2}, "encoding": {"x": {"field": "yr", "type": "quantitative", "axis": null}, "y": {"datum": -0.5, "type": "quantitative", "axis": null}, "y2": {"datum": -0.41}}},
  {"data": {"name": "xt"}, "transform": [{"filter": "datum.yr % 20 !== 0"}], "mark": {"type": "rule", "color": "black", "strokeWidth": 2}, "encoding": {"x": {"field": "yr", "type": "quantitative", "axis": null}, "y": {"datum": -0.5, "type": "quantitative", "axis": null}, "y2": {"datum": -0.455}}},
  {"data": {"name": "yt"}, "mark": {"type": "rule", "color": "black", "strokeWidth": 2}, "encoding": {"y": {"field": "yv", "type": "quantitative", "axis": null}, "x": {"datum": 1900, "type": "quantitative", "axis": null}, "x2": {"datum": 1901}}},
  {"data": {"name": "yt"}, "mark": {"type": "rule", "color": "black", "strokeWidth": 2}, "encoding": {"y": {"field": "yv", "type": "quantitative", "axis": null}, "x": {"datum": 2000, "type": "quantitative", "axis": null}, "x2": {"datum": 1999}}},
  {"data": {"values": [{}]}, "mark": {"type": "text", "align": "left", "baseline": "alphabetic", "font": "Liberation Sans", "fontSize": 14, "color": "black"}, "encoding": {"x": {"datum": 1903.2, "type": "quantitative", "axis": null}, "y": {"datum": 0.27, "type": "quantitative", "axis": null}, "text": {"value": "ANN"}}}
 ],
 "resolve": {"axis": {"x": "independent", "y": "independent"}}
}
]
}
